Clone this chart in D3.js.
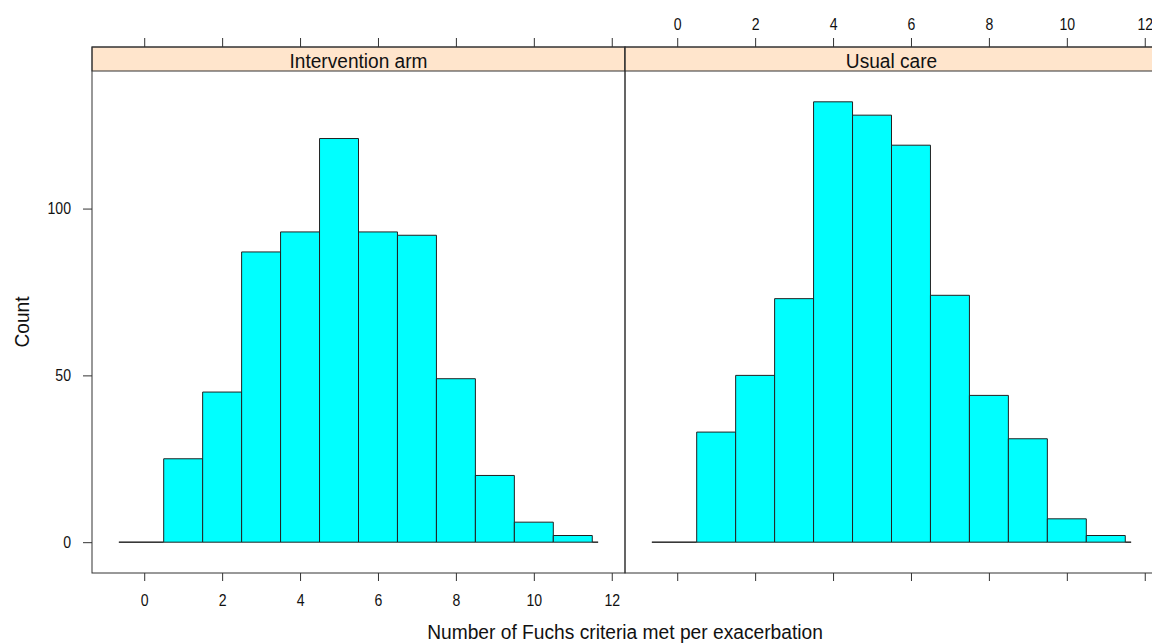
<!DOCTYPE html>
<html lang="en">
<head>
<meta charset="UTF-8">
<title>Fuchs criteria histogram</title>
<script src="https://d3js.org/d3.v7.min.js"></script>
<style>
  body { margin: 0; background: #fff; }
  svg text { font-family: "Liberation Sans", Arial, sans-serif; fill: #111; }
</style>
</head>
<body>
<svg id="chart" width="1152" height="643"></svg>
<script>
// data
var panelNames = ["Intervention arm", "Usual care"];
var binEdges = [-0.65, 0.5, 1.5, 2.5, 3.5, 4.5, 5.5, 6.5, 7.5, 8.5, 9.5, 10.5, 11.5, 11.65];
var interventionCounts = [0, 25, 45, 87, 93, 121, 93, 92, 49, 20, 6, 2, 0];
var usualCareCounts = [0, 33, 50, 73, 132, 128, 119, 74, 44, 31, 7, 2, 0];
var xTicks = [0, 2, 4, 6, 8, 10, 12];
var yTicks = [0, 50, 100];
var xLabel = "Number of Fuchs criteria met per exacerbation";
var yLabel = "Count";

var svg = d3.select("#chart");
var panelW = 533, padL = 92, padT = 47, stripH = 24, padB = 573;
var xDomain = [-1.34, 12.34];
var y = d3.scaleLinear().domain([-9.24, 141.24]).range([padB, padT + stripH]);
var tickSx = 0.88, titleSx = 0.91;

// the original text is a bit narrower than Liberation Sans, squeeze it sideways
function squeeze(sel, sx, size){
    sel.attr("font-size", size).attr("font-family", null)
        .attr("x", function(){ return (+this.getAttribute("x") || 0) / sx; })
        .attr("transform", "scale(" + sx + ",1)");
}

var series = [interventionCounts, usualCareCounts];

series.forEach(function(counts, i){
    var x0 = padL + i * panelW;
    var x = d3.scaleLinear().domain(xDomain).range([x0, x0 + panelW]);
    var g = svg.append("g");

    // strip
    g.append("rect")
        .attr("x", x0).attr("y", padT)
        .attr("width", panelW).attr("height", stripH)
        .attr("fill", "#ffe5cc").attr("stroke", "#333");
    g.append("text")
        .attr("transform", "translate(" + (x0 + panelW / 2) + "," + (padT + 21) + ") scale(" + titleSx + ",1)")
        .attr("text-anchor", "middle")
        .attr("font-size", 21)
        .text(panelNames[i]);

    // bars
    var bins = counts.map(function(c, j){ return {x0: binEdges[j], x1: binEdges[j + 1], n: c}; });
    g.selectAll("path.bar").data(bins).enter().append("path")
        .attr("class", "bar")
        .attr("d", function(d){
            return "M" + x(d.x0) + "," + y(0) + "H" + x(d.x1) + "V" + y(d.n) + "H" + x(d.x0) + "Z";
        })
        .attr("fill", "#00ffff")
        .attr("stroke", "#222")
        .attr("stroke-width", 1);

    // panel box
    g.append("rect")
        .attr("x", x0).attr("y", padT)
        .attr("width", panelW).attr("height", padB - padT)
        .attr("fill", "none").attr("stroke", "#333");

    // bottom axis (labels on the left panel only)
    var bAxis = d3.axisBottom(x).tickValues(xTicks).tickSize(8).tickPadding(13.5);
    if (i === 1) bAxis.tickFormat("");
    var gb = g.append("g").attr("transform", "translate(0," + padB + ")").call(bAxis);

    // top axis (labels on the right panel only)
    var tAxis = d3.axisTop(x).tickValues(xTicks).tickSize(9).tickPadding(8.3);
    if (i === 0) tAxis.tickFormat("");
    var gt = g.append("g").attr("transform", "translate(0," + padT + ")").call(tAxis);

    [gb, gt].forEach(function(a){
        a.select(".domain").remove();
        a.selectAll("line").attr("stroke", "#333");
        squeeze(a.selectAll("text"), tickSx, 16);
    });
});

// left axis
var gl = svg.append("g").attr("transform", "translate(" + padL + ",0)")
    .call(d3.axisLeft(y).tickValues(yTicks).tickSize(9).tickPadding(12));
gl.select(".domain").remove();
gl.selectAll("line").attr("stroke", "#333");
squeeze(gl.selectAll("text"), tickSx, 16);

// axis titles
svg.append("text")
    .attr("transform", "translate(" + (padL + panelW) + ",639) scale(0.96,1)")
    .attr("text-anchor", "middle")
    .attr("font-size", 20)
    .text(xLabel);
svg.append("text")
    .attr("transform", "translate(29," + ((padT + stripH + padB) / 2) + ") rotate(-90) scale(" + titleSx + ",1)")
    .attr("text-anchor", "middle")
    .attr("font-size", 21)
    .text(yLabel);
</script>
</body>
</html>
